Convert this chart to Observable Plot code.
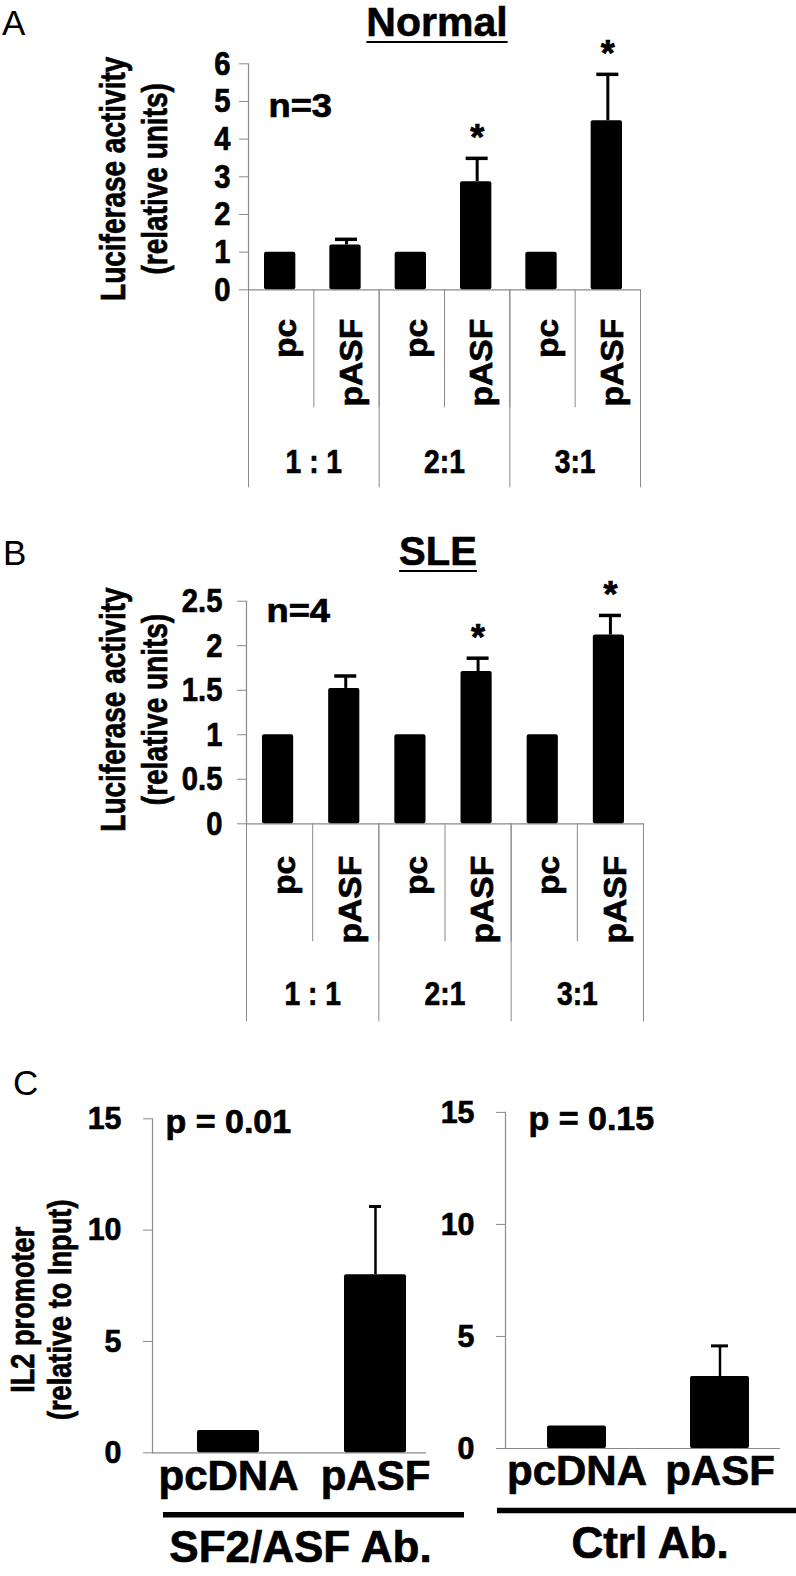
<!DOCTYPE html>
<html><head><meta charset="utf-8">
<script src="https://cdn.jsdelivr.net/npm/d3@7"></script>
<script src="https://cdn.jsdelivr.net/npm/@observablehq/plot@0.6"></script>
<style>
body{margin:0;background:#fff;}
#page{position:relative;width:796px;height:1576px;background:#fff;font-family:"Liberation Sans",Arial,sans-serif;overflow:hidden;color:#000;}
.panel{position:absolute;left:0;}
.panel svg text{stroke:#000;stroke-width:0.7px;paint-order:stroke;}
.letter{position:absolute;font-size:35px;line-height:35px;font-weight:normal;}
.title{position:absolute;line-height:1;font-weight:bold;text-decoration:underline;text-decoration-thickness:2px;text-underline-offset:5px;white-space:nowrap;transform:translateX(-50%);-webkit-text-stroke:0.6px #000;}
</style></head>
<body><div id="page"></div>
<script>
// ---------- data ----------
const ratios = ["1 : 1", "2:1", "3:1"];
const constructs = ["pc", "pASF"];
const normalMean = [1.00, 1.19, 1.00, 2.87, 1.00, 4.49];
const normalErr  = [0, 0.15, 0, 0.62, 0, 1.23];
const normalStar = [false, false, false, true, false, true];
const normalTicks = [0, 1, 2, 3, 4, 5, 6];
const sleMean = [1.00, 1.52, 1.00, 1.71, 1.00, 2.12];
const sleErr  = [0, 0.14, 0, 0.15, 0, 0.22];
const sleStar = [false, false, false, true, false, true];
const sleTicks = [0, 0.5, 1, 1.5, 2, 2.5];
const chipConstructs = ["pcDNA", "pASF"];
const sf2Mean = [1.0, 8.0];
const sf2Err  = [0, 3.06];
const ctrlMean = [1.0, 3.21];
const ctrlErr  = [0, 1.37];
const chipTicks = [0, 5, 10, 15];

const GRAY = "#8a8a8a";
const FONT = "'Liberation Sans', Arial, sans-serif";
const page = document.getElementById("page");

function place(node, top) {
  const w = document.createElement("div");
  w.className = "panel";
  w.style.top = top + "px";
  w.appendChild(node);
  page.appendChild(w);
}
function html(cls, text, left, top, size) {
  const d = document.createElement("div");
  d.className = cls; d.textContent = text;
  d.style.left = left + "px"; d.style.top = top + "px";
  if (size) d.style.fontSize = size + "px";
  page.appendChild(d);
}
// horizontal condensing of glyphs along the reading direction (the source uses a narrow bold face)
function squeeze(svg, pick) {
  svg.querySelectorAll("text").forEach(t => {
    const s = pick(t.textContent);
    if (!s || s === 1 || !t.textContent) return;
    const tr = t.getAttribute("transform");
    if (tr) t.setAttribute("transform", tr + ` scale(${s},1)`);
    else {
      const x = +(t.getAttribute("x") || 0), y = +(t.getAttribute("y") || 0);
      t.setAttribute("x", 0); t.setAttribute("y", 0);
      t.setAttribute("transform", `translate(${x},${y}) scale(${s},1)`);
    }
  });
  return svg;
}
const isNum = t => /^[\d.]+$/.test(t);

function luciferasePanel(o) {
  const rows = ratios.flatMap((g, gi) => constructs.map((c, ci) => {
    const i = gi * constructs.length + ci;
    return {group: g, construct: c, i, mean: o.mean[i], err: o.err[i], star: o.star[i]};
  }));
  const withErr = rows.filter(d => d.err > 0);
  const groups = ratios.map((g, gi) => ({group: g, c: gi * constructs.length + constructs.length / 2}));
  const N = rows.length;
  const svg = Plot.plot({
    width: 796, height: o.height,
    marginTop: o.marginTop, marginBottom: o.marginBottom, marginLeft: o.marginLeft, marginRight: o.marginRight,
    x: {type: "linear", domain: [0, N]},
    y: {domain: [0, o.ticks[o.ticks.length - 1]]},
    style: {background: "transparent", overflow: "visible", fontFamily: FONT, fontWeight: "bold", color: "black"},
    marks: [
      Plot.ruleX([0], {stroke: GRAY, strokeWidth: 1.2}),
      Plot.axisY({ticks: o.ticks, tickFormat: () => "", tickSize: 9, stroke: GRAY, label: null}),
      Plot.text(o.ticks, {y: d => d, text: d => String(d), frameAnchor: "left", textAnchor: "end", dx: -(9 + o.tickPadding), fontSize: 34, fontWeight: "bold"}),
      Plot.axisX({ticks: d3.range(N + 1), tickSize: 118, tickFormat: () => "", stroke: GRAY, label: null}),
      Plot.axisX({ticks: d3.range(0, N + 1, constructs.length), tickSize: 198, tickFormat: () => "", stroke: GRAY, label: null}),
      Plot.ruleY([0], {stroke: GRAY, strokeWidth: 1.2}),
      Plot.rect(rows, {x1: "i", x2: d => d.i + 1, y1: 0, y2: "mean", fill: "black", insetLeft: o.insetL, insetRight: o.insetR, rx: 2}),
      Plot.ruleX(withErr, {x: d => d.i + 0.5, y1: "mean", y2: d => d.mean + d.err, strokeWidth: 3}),
      Plot.ruleY(withErr, {x1: d => d.i + 0.5, x2: d => d.i + 0.5, y: d => d.mean + d.err, insetLeft: -11, insetRight: -11, strokeWidth: 3.5}),
      Plot.text(rows.filter(d => d.star), {x: d => d.i + 0.5, y: d => d.mean + d.err, text: () => "*", dy: -20, fontSize: 36, fontWeight: "bold"}),
      Plot.text(rows, {x: d => d.i + 0.5, y: 0, text: "construct", rotate: -90, textAnchor: "end", dy: o.labelDy, dx: 5, fontSize: 32, fontWeight: "bold"}),
      Plot.text(groups, {x: "c", y: 0, text: "group", dy: o.groupDy, fontSize: 34, fontWeight: "bold"}),
      Plot.text([o.n], {frameAnchor: "top-left", textAnchor: "start", lineAnchor: "top", dx: o.nDx, dy: o.nDy, fontSize: 33, fontWeight: "bold"}),
      Plot.text(["Luciferase activity\n(relative units)"], {frameAnchor: "left", textAnchor: "middle", rotate: -90, dx: o.yLabelDx, dy: o.yLabelDy, fontSize: 35, lineHeight: 1.2, fontWeight: "bold"})
    ]
  });
  return squeeze(svg, t => isNum(t) ? 0.86 : ratios.includes(t) ? 0.83 : constructs.includes(t) ? 1.05 : t.startsWith("n=") ? 1.1 : t.startsWith("Luciferase") ? 0.8 : 1);
}

function chipPanel(o) {
  const rows = chipConstructs.map((c, i) => ({construct: c, mean: o.mean[i], err: o.err[i]}));
  const withErr = rows.filter(d => d.err > 0);
  const marks = [
    Plot.frame({anchor: "left", stroke: GRAY, strokeWidth: 1.2}),
    Plot.axisY({ticks: chipTicks, tickFormat: () => "", tickSize: 9, stroke: GRAY, label: null}),
    Plot.text(chipTicks, {y: d => d, text: d => String(d), frameAnchor: "left", textAnchor: "end", dx: -(9 + 22), fontSize: 32, fontWeight: "bold"}),
    Plot.ruleY([0], {stroke: GRAY, strokeWidth: 1.2}),
    Plot.barY(rows, {x: "construct", y: "mean", fill: "black", rx: 2}),
    Plot.ruleX(withErr, {x: "construct", y1: "mean", y2: d => d.mean + d.err, strokeWidth: 2.5}),
    Plot.tickY(withErr, {x: "construct", y: d => d.mean + d.err, insetLeft: o.capInset, insetRight: o.capInset, strokeWidth: 3}),
    Plot.axisX({tickSize: 0, tickPadding: 7, fontSize: 42, fontWeight: "bold", fill: "black", label: null}),
    Plot.ruleY([0], {dy: 62, insetLeft: o.lineInsetL, insetRight: o.lineInsetR, strokeWidth: 5.5, stroke: "black"}),
    Plot.text([o.group], {frameAnchor: "bottom", lineAnchor: "top", dx: o.groupDx, dy: 78, fontSize: 44, fontWeight: "bold"}),
    Plot.text([o.p], {frameAnchor: "top-left", textAnchor: "start", lineAnchor: "top", dx: o.pDx, dy: o.pDy, fontSize: 34, fontWeight: "bold"})
  ];
  if (o.yLabel) marks.push(Plot.text([o.yLabel], {frameAnchor: "left", textAnchor: "middle", rotate: -90, dx: -112, dy: 24, fontSize: 34, lineHeight: 1.1, fontWeight: "bold"}));
  const svg = Plot.plot({
    width: 796, height: 536,
    marginTop: o.marginTop, marginBottom: o.marginBottom, marginLeft: o.marginLeft, marginRight: o.marginRight,
    x: {type: "band", domain: chipConstructs, paddingInner: o.pi, paddingOuter: o.po, align: o.align},
    y: {domain: [0, chipTicks[chipTicks.length - 1]]},
    style: {background: "transparent", overflow: "visible", fontFamily: FONT, fontWeight: "bold", color: "black"},
    marks
  });
  return squeeze(svg, t => t.startsWith("IL2") ? 0.8 : isNum(t) ? 0.95 : 1);
}

// Panel A
place(luciferasePanel({mean: normalMean, err: normalErr, star: normalStar, ticks: normalTicks,
  height: 500, marginTop: 63.3, marginBottom: 210.7, marginLeft: 248, marginRight: 156,
  tickPadding: 9, insetL: 16, insetR: 18, labelDy: 29, groupDy: 172, n: "n=3", nDx: 20, nDy: 30,
  yLabelDx: -116, yLabelDy: 2}), 0);
// Panel B
place(luciferasePanel({mean: sleMean, err: sleErr, star: sleStar, ticks: sleTicks,
  height: 510, marginTop: 80.7, marginBottom: 206.7, marginLeft: 246, marginRight: 153,
  tickPadding: 15, insetL: 16, insetR: 19, labelDy: 32, groupDy: 170, n: "n=4", nDx: 20, nDy: -3,
  yLabelDx: -114, yLabelDy: -3}), 520);
// Panel C left
place(chipPanel({mean: sf2Mean, err: sf2Err, p: "p = 0.01", group: "SF2/ASF Ab.",
  yLabel: "IL2 promoter\n(relative to Input)",
  marginTop: 78.3, marginBottom: 123.7, marginLeft: 152, marginRight: 370,
  pi: 0.58, po: 0.216, align: 0.69, capInset: 25, lineInsetL: 11, lineInsetR: -38, groupDx: 11, pDx: 13, pDy: -10}), 1040);
// Panel C right
place(chipPanel({mean: ctrlMean, err: ctrlErr, p: "p = 0.15", group: "Ctrl Ab.",
  marginTop: 71.9, marginBottom: 128, marginLeft: 505, marginRight: 16,
  pi: 0.587, po: 0.255, align: 0.575, capInset: 21, lineInsetL: -8, lineInsetR: -16, groupDx: 7, pDx: 23, pDy: -7}), 1040);

// panel letters & titles
html("letter", "A", 2, 5);
html("letter", "B", 3, 535);
html("letter", "C", 13, 1065);
html("title", "Normal", 437, 2, 41);
html("title", "SLE", 438, 531, 40);
</script>
</body></html>
